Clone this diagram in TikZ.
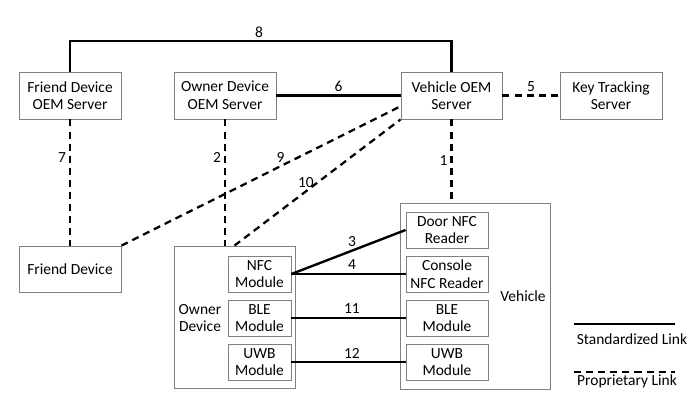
\documentclass[tikz,border=0pt]{standalone}
\usepackage{fontspec}
\setmainfont{Carlito}
\newcommand\px{0.025cm}
\begin{document}
\begin{tikzpicture}[x=\px, y=-\px, line cap=butt, line join=miter,
    box/.style={draw=black!50, line width=0.6pt, align=center, inner sep=0pt,
        font=\fontsize{11}{12.5}\selectfont},
    std/.style={line width=1.7pt},
    prop/.style={line width=1.6pt, dash pattern=on 5pt off 3.6pt},
    num/.style={font=\fontsize{11}{12.5}\selectfont, inner sep=2pt}]
    \useasboundingbox (0,0) rectangle (695,406);

    % Servers on the top row
    \node[box, minimum width=102*\px, minimum height=47*\px] (fdserver) at (70,95.5) {Friend Device\\OEM Server};
    \node[box, minimum width=102*\px, minimum height=47*\px] (odserver) at (225,95.5) {Owner Device\\OEM Server};
    \node[box, minimum width=101*\px, minimum height=47*\px] (vserver) at (451.5,95.5) {Vehicle OEM\\Server};
    \node[box, minimum width=102*\px, minimum height=47*\px] (ktserver) at (611,95.5) {Key Tracking\\Server};

    % Devices
    \node[box, minimum width=102*\px, minimum height=46*\px] (fdevice) at (70,269) {Friend Device};
    \node[box, minimum width=121*\px, minimum height=142*\px] (odevice) at (234.5,317) {};
    \node[box, draw=none] at (200,318) {Owner\\Device};
    \node[box, minimum width=63*\px, minimum height=36*\px] (nfcmod) at (259.5,274) {NFC\\Module};
    \node[box, minimum width=63*\px, minimum height=36*\px] (blemod) at (259.5,318) {BLE\\Module};
    \node[box, minimum width=63*\px, minimum height=36*\px] (uwbmod) at (259.5,362.3) {UWB\\Module};

    % Vehicle and its readers
    \node[box, minimum width=150*\px, minimum height=186*\px] (vehicle) at (475.7,296) {};
    \node[box, draw=none] at (523,296) {Vehicle};
    \node[box, minimum width=82*\px, minimum height=36*\px] (doornfc) at (447,230) {Door NFC\\Reader};
    \node[box, minimum width=82*\px, minimum height=36*\px] (consnfc) at (447,274) {Console\\NFC Reader};
    \node[box, minimum width=82*\px, minimum height=36*\px] (vble) at (447,318) {BLE\\Module};
    \node[box, minimum width=82*\px, minimum height=36*\px] (vuwb) at (447,362.3) {UWB\\Module};

    % Standardized links
    \coordinate (top8) at (259,40.7);
    \draw[std] (fdserver.north) |- (top8) -| (vserver.north);
    \node[num, above] at (top8) {8};
    \draw[std] (odserver) -- node[num, above] {6} (vserver);
    \draw[std] (nfcmod.east) -- node[num, above, pos=0.53] {3} (doornfc.west);
    \draw[std] (nfcmod.east) -- node[num, above, pos=0.53] {4} (consnfc.west);
    \draw[std] (blemod) -- node[num, above, pos=0.53] {11} (vble);
    \draw[std] (uwbmod) -- node[num, above, pos=0.53] {12} (vuwb);

    % Proprietary links
    \draw[prop] (vserver) -- node[num, above] {5} (ktserver);
    \draw[prop] (vserver.south) -- node[num, left, pos=0.5] {1} (vserver.south |- vehicle.north);
    \draw[prop] (fdserver) -- node[num, left, pos=0.3] {7} (fdevice);
    \draw[prop] (odserver.south) -- node[num, left, pos=0.3] {2} (odserver.south |- odevice.north);
    \draw[prop] (fdevice.north east) -- node[num, above, pos=0.57] {9} (vserver.192);
    \draw[prop] (odevice.north) -- node[num, above, pos=0.43] {10} (vserver.south west);

    % Legend
    \coordinate (leg1a) at (574,324.3);
    \coordinate (leg1b) at (675,324.3);
    \coordinate (leg2a) at (574,371.7);
    \coordinate (leg2b) at (675,371.7);
    \draw[std] (leg1a) -- (leg1b);
    \draw[prop] (leg2a) -- (leg2b);
    \node[box, draw=none] (legstd) at (632,339) {Standardized Link};
    \node[box, draw=none] (legprop) at (627,381.7) {Proprietary Link};
\end{tikzpicture}
\end{document}
